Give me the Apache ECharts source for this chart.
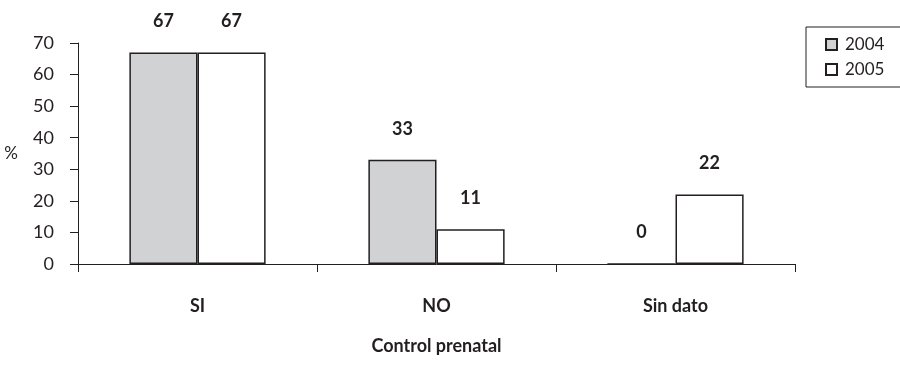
<!DOCTYPE html>
<html>
<head>
<meta charset="utf-8">
<script src="https://cdn.jsdelivr.net/npm/echarts@6/dist/echarts.min.js"></script>
<style>
  html, body { margin: 0; padding: 0; background: #fff; }
  #chart { width: 900px; height: 374px; }
</style>
</head>
<body>
<div id="chart"></div>
<script>
// Prenatal control, share of cases (%) per year
const categories = ['SI', 'NO', 'Sin dato'];
const years = ['2004', '2005'];
const values2004 = [67, 33, 0];
const values2005 = [67, 11, 22];
const yTicks = [0, 10, 20, 30, 40, 50, 60, 70];

const ink = '#231f20';
const font = 'Lato, "Open Sans", sans-serif';

const chart = echarts.init(document.getElementById('chart'), null, { renderer: 'canvas' });

function barSeries(name, data, fill) {
  return {
    name: name,
    type: 'bar',
    data: data,
    barGap: '0%',
    barCategoryGap: '43%',
    itemStyle: { color: fill, borderColor: ink, borderWidth: 1.5 },
    label: {
      show: true,
      position: 'top',
      distance: 22,
      color: ink,
      fontFamily: font,
      fontWeight: 'bold',
      fontSize: 18
    },
    emphasis: { disabled: true }
  };
}

chart.setOption({
  animation: false,
  backgroundColor: '#fff',
  textStyle: { fontFamily: font, color: ink },
  grid: { left: 78, right: 105, top: 43, bottom: 110, containLabel: false },
  legend: {
    data: years,
    orient: 'vertical',
    left: 806,
    top: 27,
    padding: [9, 40, 9, 19],
    itemGap: 8,
    itemWidth: 11,
    itemHeight: 11,
    borderColor: ink,
    borderWidth: 1,
    icon: 'rect',
    textStyle: { fontFamily: font, fontSize: 17, color: ink, padding: [0, 0, 0, 3] }
  },
  xAxis: {
    type: 'category',
    data: categories,
    boundaryGap: true,
    axisLine: { lineStyle: { color: ink, width: 1 } },
    axisTick: { show: true, length: 8, lineStyle: { color: ink } },
    axisLabel: {
      color: ink, fontFamily: font, fontWeight: 'bold', fontSize: 18, margin: 33
    },
    name: 'Control prenatal',
    nameLocation: 'middle',
    nameGap: 73,
    nameTextStyle: { color: ink, fontFamily: font, fontWeight: 'bold', fontSize: 18 }
  },
  yAxis: {
    type: 'value',
    min: yTicks[0],
    max: yTicks[yTicks.length - 1],
    interval: 10,
    splitLine: { show: false },
    axisLine: { show: true, lineStyle: { color: ink, width: 1 } },
    axisTick: { show: true, length: 8, lineStyle: { color: ink } },
    axisLabel: { color: ink, fontFamily: font, fontSize: 18, margin: 24 },
    name: '%',
    nameLocation: 'middle',
    nameRotate: 0,
    nameGap: 60,
    nameTextStyle: { color: ink, fontFamily: font, fontSize: 17, padding: [12, 0, 0, 0] }
  },
  series: [
    barSeries(years[0], values2004, '#d1d2d4'),
    barSeries(years[1], values2005, '#ffffff')
  ]
});
</script>
</body>
</html>
